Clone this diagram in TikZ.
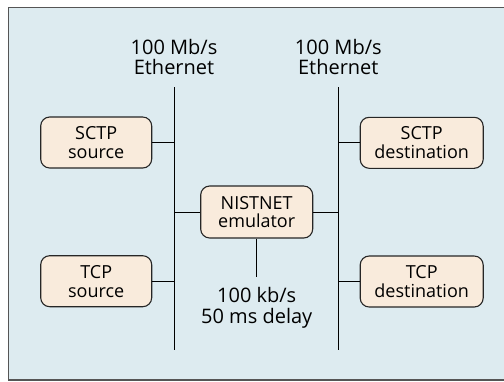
\documentclass[tikz,border=0pt]{standalone}
\usepackage{fontspec}
\setmainfont{Open Sans}
\definecolor{bgblue}{HTML}{DDEBF0}
\definecolor{boxfill}{HTML}{F9EBDC}
\definecolor{framegray}{HTML}{555555}
\begin{document}
\begin{tikzpicture}[x=1pt,y=-1pt,
  hostbox/.style={draw=black!85, line width=1.1pt, fill=boxfill, rounded corners=9pt,
    minimum height=51pt, inner sep=0pt, align=center, font=\fontsize{18}{18.8}\selectfont},
  lbl/.style={inner sep=0pt, align=center, font=\fontsize{20}{20.7}\selectfont},
  wire/.style={draw=black, line width=0.9pt}]
\useasboundingbox (0,0) rectangle (504,381);
\fill[bgblue] (8.5,7.5) rectangle (504,380);
\draw[framegray, line width=1.8pt] (504,7.5) -- (8.5,7.5) -- (8.5,380.3) -- (504,380.3);

\node[lbl] (ethL) at (174,57) {100 Mb/s\\Ethernet};
\node[lbl] (ethR) at (338.3,57) {100 Mb/s\\Ethernet};
\node[lbl] (link) at (256.7,308) {100 kb/s\\50 ms delay};

\node[hostbox, minimum width=111pt] (sctps) at (96.2,142.5) {SCTP\\source};
\node[hostbox, minimum width=111pt] (tcps) at (96.2,281.2) {TCP\\source};
\node[hostbox, minimum width=112pt, minimum height=52pt] (nist) at (256.7,212) {NISTNET\\emulator};
\node[hostbox, minimum width=123pt] (sctpd) at (421.7,142.8) {SCTP\\destination};
\node[hostbox, minimum width=123pt] (tcpd) at (421.7,281.5) {TCP\\destination};

\coordinate (LT) at (174,87);
\coordinate (LB) at (174,350);
\coordinate (RT) at (338.3,87);
\coordinate (RB) at (338.3,350);
\coordinate (ND) at (256.7,277);

\draw[wire] (LT) -- (LB);
\draw[wire] (RT) -- (RB);
\draw[wire] (sctps.east) -- (sctps.east -| LT);
\draw[wire] (tcps.east) -- (tcps.east -| LT);
\draw[wire] (nist.west) -- (nist.west -| LT);
\draw[wire] (nist.east) -- (nist.east -| RT);
\draw[wire] (sctpd.west) -- (sctpd.west -| RT);
\draw[wire] (tcpd.west) -- (tcpd.west -| RT);
\draw[wire] (nist.south) -- (ND);
\end{tikzpicture}
\end{document}
